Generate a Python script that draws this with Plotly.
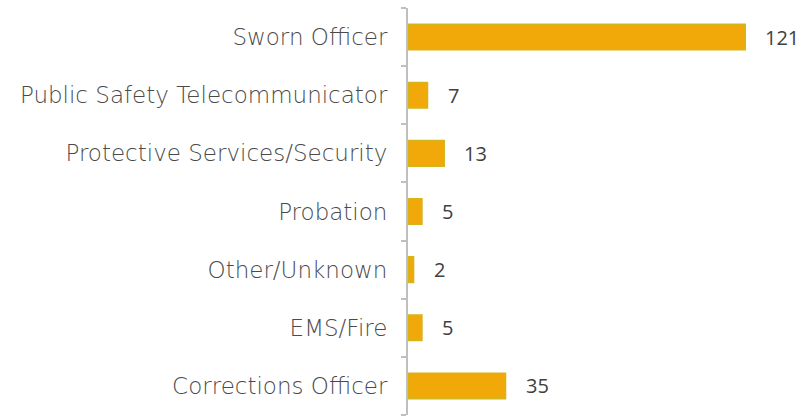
import plotly.graph_objects as go

categories = ["Corrections Officer", "EMS/Fire", "Other/Unknown", "Probation",
              "Protective Services/Security", "Public Safety Telecommunicator", "Sworn Officer"]
values = [35, 5, 2, 5, 13, 7, 121]

fig = go.Figure()
fig.add_trace(go.Bar(
    y=categories, x=values, orientation="h",
    marker=dict(color="#F1A90A", line=dict(color="#D3B61E", width=1.5)),
    hoverinfo="x+y",
))

for c, v in zip(categories, values):
    fig.add_annotation(x=v, y=c, text=str(v), showarrow=False, xanchor="left",
                       xshift=18, font=dict(family="Open Sans", size=20, color="#404040"))

fig.update_layout(
    width=808, height=419,
    margin=dict(l=408, r=7, t=8, b=4),
    paper_bgcolor="white", plot_bgcolor="white",
    bargap=0.56,
    showlegend=False,
    xaxis=dict(range=[0, 141], visible=False, fixedrange=True, automargin=False),
    yaxis=dict(
        type="category", categoryorder="array", categoryarray=categories,
        automargin=False,
        showline=True, linecolor="#BFBFBF", linewidth=2,
        ticks="outside", ticklen=5, tickcolor="#BFBFBF", tickwidth=2,
        tickson="boundaries", ticklabelstandoff=14,
        showgrid=False, zeroline=False,
        tickfont=dict(family="DejaVu Sans", size=23, color="#4A4A4A", weight=200),
    ),
)

fig.write_html("out.html", config={"displayModeBar": False})

with open("out.html", "r", encoding="utf-8") as f:
    html = f.read()
html = html.replace("<head>", "<head><style>html,body{margin:0;padding:0;overflow:hidden;}</style>", 1)
with open("out.html", "w", encoding="utf-8") as f:
    f.write(html)
